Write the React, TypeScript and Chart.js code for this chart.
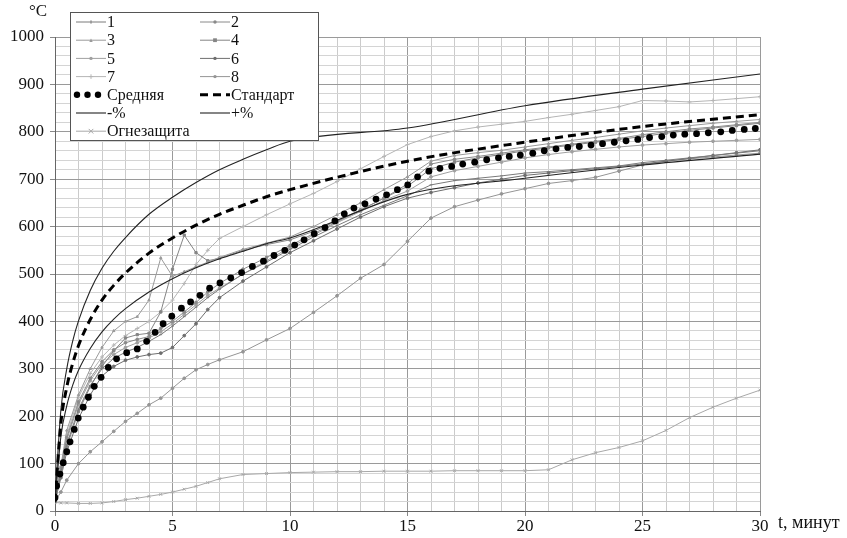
import React, { useEffect, useRef } from 'react';
import { Chart, registerables } from 'chart.js';

Chart.register(...registerables);

// ---------- data ----------
const TEST_T = [0, 0.25, 0.5, 1, 1.5, 2, 2.5, 3, 3.5, 4, 4.5, 5, 5.5, 6, 6.5, 7, 8, 9, 10, 11, 12, 13, 14, 15, 16, 17, 18, 19, 20, 21, 22, 23, 24, 25, 26, 27, 28, 29, 30];
const S1 = [20, 80, 140, 215, 265, 300, 322, 335, 345, 358, 372, 390, 410, 430, 450, 468, 500, 525, 552, 578, 602, 625, 645, 665, 688, 697, 702, 707, 713, 716, 720, 724, 728, 735, 740, 745, 750, 755, 760];
const S2 = [20, 90, 155, 230, 280, 315, 340, 355, 362, 368, 385, 400, 420, 440, 462, 480, 510, 535, 560, 585, 610, 635, 660, 690, 732, 742, 748, 755, 762, 768, 774, 780, 786, 794, 800, 806, 810, 815, 820];
const S3 = [20, 95, 170, 245, 300, 345, 380, 400, 410, 445, 534, 495, 505, 515, 525, 535, 552, 565, 578, 600, 625, 650, 678, 705, 738, 750, 756, 761, 768, 775, 782, 788, 795, 802, 808, 813, 818, 822, 826];
const S4 = [20, 75, 135, 210, 262, 305, 338, 365, 372, 375, 420, 510, 582, 545, 528, 533, 550, 562, 572, 590, 612, 635, 660, 685, 722, 736, 745, 752, 760, 766, 772, 778, 784, 790, 797, 803, 808, 813, 818];
const S5 = [20, 85, 150, 225, 275, 310, 330, 345, 355, 365, 378, 395, 415, 435, 455, 470, 500, 528, 556, 582, 608, 632, 655, 675, 705, 718, 727, 736, 745, 752, 758, 763, 768, 772, 775, 778, 780, 782, 784];
const S6 = [20, 70, 125, 195, 245, 285, 305, 318, 325, 330, 333, 345, 370, 395, 425, 450, 485, 515, 545, 570, 595, 620, 642, 660, 672, 682, 692, 700, 708, 713, 718, 722, 727, 732, 738, 744, 750, 756, 762];
const S7 = [20, 90, 160, 240, 290, 325, 350, 370, 385, 400, 420, 445, 480, 520, 550, 575, 600, 625, 648, 670, 695, 722, 748, 773, 790, 802, 810, 816, 822, 830, 837, 845, 853, 866, 865, 863, 866, 870, 874];
const S8 = [20, 40, 65, 100, 125, 146, 168, 189, 206, 224, 238, 259, 280, 298, 309, 319, 336, 361, 385, 419, 454, 491, 520, 569, 618, 642, 656, 669, 680, 691, 697, 704, 717, 730, 738, 743, 747, 751, 755];
const FIRE = [18, 17, 17, 16, 16, 17, 20, 24, 27, 31, 35, 40, 46, 52, 60, 68, 77, 79, 81, 82, 83, 83, 84, 84, 84, 85, 85, 85, 85, 87, 108, 123, 134, 148, 170, 197, 219, 238, 255];

const MEAN_T = [0, 0.07, 0.21, 0.35, 0.5, 0.64, 0.82, 0.99, 1.2, 1.42, 1.67, 1.96, 2.27, 2.62, 3.05, 3.5, 3.9, 4.26, 4.6, 4.97, 5.38, 5.77, 6.17, 6.58, 7.02, 7.48, 7.94, 8.4, 8.87, 9.32, 9.78, 10.2, 10.6, 11.03, 11.49, 11.91, 12.31, 12.72, 13.19, 13.66, 14.11, 14.57, 15.01, 15.43, 15.91, 16.38, 16.88, 17.35, 17.86, 18.37, 18.87, 19.33, 19.8, 20.33, 20.82, 21.32, 21.82, 22.31, 22.81, 23.3, 23.8, 24.3, 24.8, 25.3, 25.82, 26.31, 26.8, 27.3, 27.8, 28.33, 28.82, 29.33, 29.8];
const MEAN_V = [28, 53, 78, 102, 125, 146, 172, 196, 219, 240, 263, 282, 303, 321, 334, 342, 358, 377, 395, 411, 428, 441, 455, 470, 481, 492, 503, 516, 527, 539, 550, 561, 572, 585, 598, 612, 627, 639, 648, 658, 667, 678, 688, 705, 717, 723, 727, 732, 736, 741, 745, 748, 751, 755, 760, 764, 767, 769, 772, 775, 778, 781, 784, 788, 790, 793, 795, 796, 798, 800, 803, 805, 807];

const LIM_T = [0, 0.25, 0.5, 0.75, 1, 1.5, 2, 2.5, 3, 4, 5, 6, 7, 8, 9, 10, 15, 20, 25, 30];
const STD_V = [20, 185, 261, 311, 349, 404, 445, 476, 502, 544, 576, 603, 626, 645, 663, 678, 738, 778, 811, 836];
const UPPER_V = [23, 213, 300, 358, 401, 465, 512, 548, 577, 626, 662, 693, 720, 742, 762, 780, 808, 855, 890, 922];
const LOWER_V = [17, 157, 222, 265, 297, 343, 378, 405, 427, 462, 490, 513, 532, 548, 564, 576, 668, 702, 730, 753];

const LEGEND_LABELS = ['1', '2', '3', '4', '5', '6', '7', '8', 'Средняя', 'Стандарт', '-%', '+%', 'Огнезащита'];
const X_TITLE = 't, минут';
const Y_TITLE = '°C';
const X_MIN = 0, X_MAX = 30, Y_MIN = 0, Y_MAX = 1000;

const FONT = '"Liberation Serif", "Times New Roman", serif';

const pts = (ts: number[], vs: number[]) => ts.map((t, i) => ({ x: t, y: vs[i] }));

function drawMarker(ctx: CanvasRenderingContext2D, style: string, x: number, y: number, r: number, color: string) {
  ctx.save();
  ctx.fillStyle = color;
  ctx.strokeStyle = color;
  ctx.lineWidth = 1;
  ctx.setLineDash([]);
  ctx.beginPath();
  if (style === 'rect') {
    ctx.fillRect(x - r, y - r, 2 * r, 2 * r);
  } else if (style === 'cross') {
    ctx.moveTo(x - r, y); ctx.lineTo(x + r, y);
    ctx.moveTo(x, y - r); ctx.lineTo(x, y + r);
    ctx.stroke();
  } else if (style === 'crossRot') {
    ctx.moveTo(x - r, y - r); ctx.lineTo(x + r, y + r);
    ctx.moveTo(x - r, y + r); ctx.lineTo(x + r, y - r);
    ctx.stroke();
  } else if (style === 'triangle') {
    ctx.moveTo(x, y - r); ctx.lineTo(x + r, y + r); ctx.lineTo(x - r, y + r); ctx.closePath(); ctx.fill();
  } else if (style === 'line') {
    ctx.moveTo(x, y - r); ctx.lineTo(x, y + r); ctx.stroke();
  } else {
    ctx.arc(x, y, r, 0, Math.PI * 2); ctx.fill();
  }
  ctx.restore();
}

const decorPlugin = {
  id: 'decor',
  afterDraw(chart: any) {
    const ctx: CanvasRenderingContext2D = chart.ctx;
    ctx.save();
    // axis titles
    ctx.fillStyle = '#111';
    ctx.textBaseline = 'middle';
    ctx.textAlign = 'left';
    ctx.font = '17px ' + FONT;
    ctx.fillText(Y_TITLE, 29, 12);
    ctx.font = '18px ' + FONT;
    ctx.fillText(X_TITLE, 778, 523);

    // legend box
    const bx = 70.5, by = 12.5, bw = 248, bh = 128;
    ctx.fillStyle = '#fff';
    ctx.fillRect(bx, by, bw, bh);
    ctx.strokeStyle = '#555';
    ctx.lineWidth = 1;
    ctx.strokeRect(bx, by, bw, bh);

    const dsets = chart.data.datasets;
    LEGEND_LABELS.forEach((lab, i) => {
      const ds = dsets.find((d: any) => d.label === lab);
      if (!ds) return;
      const col = i % 2, row = Math.floor(i / 2);
      const x0 = col === 0 ? 76 : 200;
      const y = 22 + row * 18.2;
      const len = 30;
      if (ds.showLine === false) {
        for (let k = 0; k < 3; k++) drawMarker(ctx, 'circle', x0 + 1 + k * 10.5, y, 3.2, '#000');
      } else {
        ctx.save();
        ctx.strokeStyle = ds.borderColor;
        ctx.lineWidth = ds.borderWidth;
        ctx.setLineDash(ds.borderDash || []);
        ctx.beginPath();
        ctx.moveTo(x0, y);
        ctx.lineTo(x0 + len, y);
        ctx.stroke();
        ctx.restore();
        if (ds.pointRadius > 0) drawMarker(ctx, ds.pointStyle, x0 + len / 2, y, ds.pointRadius + 0.3, ds.borderColor);
      }
      ctx.fillStyle = '#111';
      ctx.font = '16px ' + FONT;
      ctx.textAlign = 'left';
      ctx.textBaseline = 'middle';
      ctx.fillText(lab, x0 + len + 1, y + 1);
    });
    ctx.restore();
  },
};

export default function App() {
  const ref = useRef<HTMLCanvasElement | null>(null);

  useEffect(() => {
    document.body.style.margin = '0';
    const canvas = ref.current;
    if (!canvas) return;

    const test = (label: string, data: number[], color: string, style: string, r = 1.4) => ({
      label,
      data: pts(TEST_T, data),
      borderColor: color,
      backgroundColor: color,
      borderWidth: 1,
      pointStyle: style,
      pointRadius: r,
      pointBorderWidth: 1,
      pointHoverRadius: 0,
      order: 3,
      tension: 0,
    });

    const chart = new Chart(canvas, {
      type: 'line',
      data: {
        datasets: [
          {
            label: 'Средняя',
            data: pts(MEAN_T, MEAN_V),
            showLine: false,
            pointRadius: 3.4,
            pointStyle: 'circle',
            backgroundColor: '#000',
            borderColor: '#000',
            borderWidth: 0,
            pointBorderWidth: 0,
            pointHoverRadius: 0,
            order: 0,
          },
          {
            label: 'Стандарт',
            data: pts(LIM_T, STD_V),
            borderColor: '#000',
            backgroundColor: '#000',
            borderWidth: 3,
            borderDash: [8, 5],
            pointRadius: 0,
            cubicInterpolationMode: 'monotone',
            order: 1,
          },
          {
            label: '-%',
            data: pts(LIM_T, LOWER_V),
            borderColor: '#222',
            backgroundColor: '#222',
            borderWidth: 1.1,
            pointRadius: 0,
            cubicInterpolationMode: 'monotone',
            order: 2,
          },
          {
            label: '+%',
            data: pts(LIM_T, UPPER_V),
            borderColor: '#222',
            backgroundColor: '#222',
            borderWidth: 1.1,
            pointRadius: 0,
            cubicInterpolationMode: 'monotone',
            order: 2,
          },
          test('1', S1, '#7a7a7a', 'line'),
          test('2', S2, '#8a8a8a', 'circle'),
          test('3', S3, '#9a9a9a', 'triangle'),
          test('4', S4, '#858585', 'rect', 1.6),
          test('5', S5, '#a0a0a0', 'circle'),
          test('6', S6, '#6e6e6e', 'circle'),
          test('7', S7, '#b5b5b5', 'cross', 2),
          test('8', S8, '#959595', 'circle'),
          { ...test('Огнезащита', FIRE, '#a8a8a8', 'crossRot', 2), order: 4 },
        ],
      },
      options: {
        animation: false,
        responsive: false,
        events: [],
        layout: { padding: { top: 37, right: 87, bottom: 0, left: 0 } },
        plugins: {
          legend: { display: false },
          tooltip: { enabled: false },
        },
        scales: {
          x: {
            type: 'linear',
            min: X_MIN,
            max: X_MAX,
            afterFit: (s: any) => { s.height = 27; },
            border: { display: true, color: '#666', width: 1 },
            grid: {
              color: (c: any) => (c.tick && c.tick.value % 5 === 0 ? '#9a9a9a' : '#cbcbcb'),
              tickColor: (c: any) => (c.tick && c.tick.value % 5 === 0 ? '#888' : 'rgba(0,0,0,0)'),
              tickLength: 5,
              lineWidth: 1,
            },
            ticks: {
              stepSize: 1,
              autoSkip: false,
              maxRotation: 0,
              padding: 0,
              color: '#111',
              font: { family: FONT, size: 17 },
              callback: (v: any) => (Number(v) % 5 === 0 ? String(v) : ''),
            },
          },
          y: {
            type: 'linear',
            min: Y_MIN,
            max: Y_MAX,
            afterFit: (s: any) => { s.width = 55; },
            border: { display: true, color: '#666', width: 1 },
            grid: {
              color: (c: any) => (c.tick && c.tick.value % 100 === 0 ? '#9a9a9a' : '#d4d4d4'),
              tickColor: (c: any) => (c.tick && c.tick.value % 100 === 0 ? '#888' : 'rgba(0,0,0,0)'),
              tickLength: 5,
              lineWidth: 1,
            },
            ticks: {
              stepSize: 20,
              autoSkip: false,
              padding: 6,
              color: '#111',
              font: { family: FONT, size: 17 },
              callback: (v: any) => (Number(v) % 100 === 0 ? String(v) : ''),
            },
          },
        },
      },
      plugins: [decorPlugin],
    } as any);

    return () => chart.destroy();
  }, []);

  return (
    <div style={{ position: 'fixed', left: 0, top: 0, width: 847, height: 538, background: '#fff' }}>
      <canvas ref={ref} width={847} height={538} />
    </div>
  );
}
